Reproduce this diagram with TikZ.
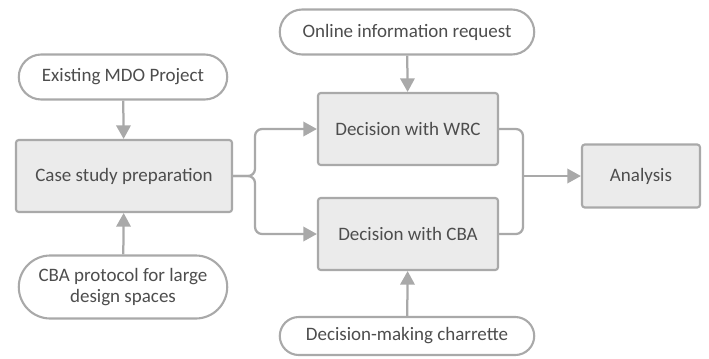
\documentclass[tikz,border=0pt]{standalone}
\usepackage{fontspec}
\setmainfont{Carlito}
\usetikzlibrary{arrows.meta,shapes.misc}
\definecolor{lineGray}{HTML}{A9A9A9}
\definecolor{boxFill}{HTML}{EBEBEB}
\definecolor{textGray}{HTML}{4D4D4D}
\begin{document}
\begin{tikzpicture}[
        x=0.025cm, y=-0.025cm,
        every node/.style={font=\fontsize{13.5}{15.5}\selectfont, text=textGray, align=center},
        pill/.style={rounded rectangle, draw=lineGray, line width=1.5pt, fill=white, inner sep=2pt},
        task/.style={rectangle, draw=lineGray, line width=1.5pt, fill=boxFill, rounded corners=2pt},
        link/.style={draw=lineGray, line width=1.6pt, rounded corners=5pt},
        flow/.style={link, -{Triangle[length=3.4mm,width=3.6mm]}}
    ]
    \useasboundingbox (0,0) rectangle (709,358);
    % inputs
    \node[pill, minimum width=5.35cm, minimum height=1.125cm] (mdo) at (123,77) {Existing MDO Project};
    \node[pill, minimum width=5.35cm, minimum height=1.575cm] (protocol) at (123,287) {CBA protocol for large\\design spaces};
    \node[pill, minimum width=6.5cm, minimum height=1.125cm] (online) at (407,32) {Online information request};
    \node[pill, minimum width=6.5cm, minimum height=0.95cm] (charrette) at (407,336) {Decision-making charrette};
    % tasks
    \node[task, minimum width=5.4cm, minimum height=1.8cm] (prep) at (124,176) {Case study preparation};
    \node[task, minimum width=4.5cm, minimum height=1.8cm] (wrc) at (408,129) {Decision with WRC};
    \node[task, minimum width=4.5cm, minimum height=1.8cm] (cba) at (408,234) {Decision with CBA};
    \node[task, minimum width=2.95cm, minimum height=1.575cm] (analysis) at (641,176) {Analysis};
    \coordinate (split) at (255,176);
    \coordinate (join) at (523,176);
    % connectors
    \draw[flow] (mdo) -- (prep);
    \draw[flow] (protocol) -- (prep);
    \draw[flow] (online) -- (wrc);
    \draw[flow] (charrette) -- (cba);
    \draw[flow] (prep.east) -- (split) |- (wrc.west);
    \draw[flow] (prep.east) -- (split) |- (cba.west);
    \draw[link] (wrc.east) -| (join);
    \draw[link] (cba.east) -| (join);
    \draw[flow] (join) -- (analysis.west);
\end{tikzpicture}
\end{document}
